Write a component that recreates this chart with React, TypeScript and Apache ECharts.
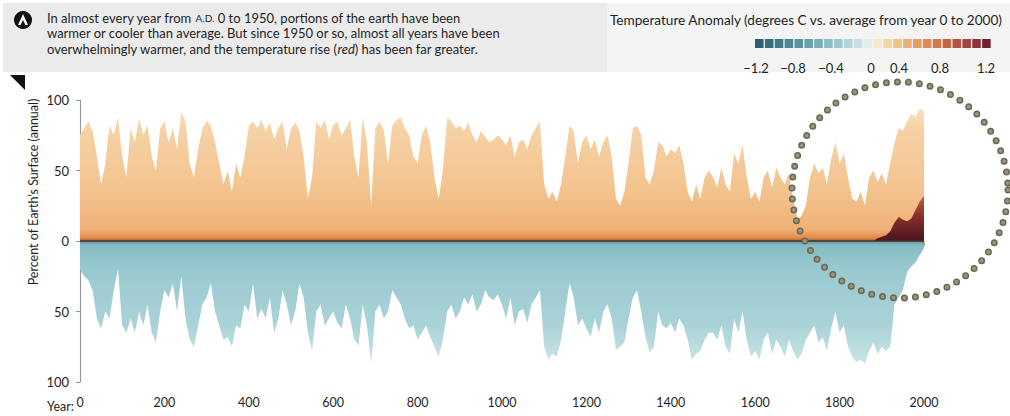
import React, { useEffect, useRef } from "react";
import * as echarts from "echarts";

// Decade sample years 0..2000
const years: number[] = Array.from({ length: 201 }, (_, i) => i * 10);

// Percent of Earth's surface warmer than average (per decade sample)
const warmPct: number[] = [
  75, 80, 85, 78, 60, 40, 55, 82, 75, 88, 60, 45, 80, 70, 87, 75, 82, 60, 50, 80,
  85, 70, 80, 65, 92, 85, 55, 45, 65, 80, 85, 82, 70, 55, 40, 50, 35, 55, 45, 60,
  82, 85, 80, 86, 78, 84, 72, 80, 85, 65,
  80, 84, 78, 60, 30, 45, 85, 80, 86, 72, 82, 85, 75, 80, 86, 60, 45, 88, 70, 25,
  80, 85, 78, 55, 82, 86, 88, 80, 75, 60, 55, 75, 82, 70, 45, 30, 50, 88, 85, 80,
  82, 78, 84, 75, 70, 78, 74, 70, 72, 75,
  72, 68, 75, 60, 70, 72, 65, 75, 80, 85, 40, 30, 35, 28, 40, 60, 82, 78, 55, 70,
  75, 65, 72, 60, 70, 75, 60, 30, 25, 35, 55, 80, 82, 75, 45, 40, 50, 70, 68, 60,
  65, 62, 68, 55, 35, 28, 40, 30, 45, 50,
  45, 38, 52, 40, 35, 62, 55, 68, 45, 30, 35, 28, 45, 50, 38, 52, 45, 40, 48, 30,
  15, 18, 25, 45, 55, 48, 52, 40, 58, 70, 55, 62, 45, 30, 28, 35, 25, 45, 50, 42,
  48, 40, 55, 70, 80, 78, 85, 90, 88, 94, 92,
];

// Percent of Earth's surface cooler than average (plotted downward)
const coolPct: number[] = [
  20, 25, 28, 35, 55, 62, 50, 55, 35, 20, 60, 65, 55, 65, 50, 60, 45, 65, 72, 50,
  35, 40, 30, 50, 25, 55, 70, 75, 60, 45, 40, 30, 50, 60, 70, 68, 75, 60, 62, 45,
  50, 30, 55, 48, 55, 40, 65, 55, 35, 45,
  60, 50, 30, 40, 65, 78, 50, 45, 60, 55, 50, 58, 62, 45, 55, 70, 74, 45, 60, 87,
  50, 45, 55, 50, 35, 40, 45, 55, 62, 60, 70, 65, 60, 68, 75, 82, 70, 50, 45, 55,
  50, 40, 45, 38, 50, 45, 35, 40, 42, 38,
  45, 55, 40, 60, 50, 48, 58, 45, 40, 35, 75, 84, 80, 82, 70, 50, 30, 40, 60, 55,
  62, 68, 55, 65, 50, 45, 55, 77, 75, 72, 55, 40, 35, 50, 68, 79, 75, 50, 60, 62,
  58, 65, 55, 60, 70, 84, 80, 78, 70, 65,
  65, 70, 60, 75, 80, 55, 65, 50, 70, 82, 78, 84, 70, 65, 80, 70, 75, 82, 70, 78,
  84, 80, 70, 65, 60, 72, 68, 78, 62, 50, 65, 60, 75, 82, 86, 84, 87, 78, 72, 80,
  75, 78, 75, 45, 40, 35, 22, 18, 15, 10, 5,
];

// Strongly warm (red) portion in the modern era
const hotYears: number[] = [1880, 1890, 1900, 1910, 1920, 1930, 1940, 1950, 1960, 1970, 1980, 1990, 2000];
const hotPct: number[] = [0, 2, 3, 4, 7, 13, 17, 15, 14, 16, 22, 28, 32];

const yTicks: number[] = [-100, -50, 0, 50, 100];
const legendLabels: string[] = ["\u22121.2", "\u22120.8", "\u22120.4", "0", "0.4", "0.8", "1.2"];
const legendLabelX: number[] = [756, 793, 831, 871, 899, 940, 986];
const legendColors: string[] = [
  "#2e5f6e", "#376c7a", "#417a87", "#4d8793", "#5a949f", "#69a1ab", "#79aeb7", "#8bbbc3",
  "#9ec8ce", "#b2d4d9", "#c8e0e2", "#e2eeec", "#f6e8cc", "#f3d6a4", "#efc48a", "#eab176",
  "#e49e65", "#dc8b58", "#d0784f", "#c26648", "#b35443", "#a2433f", "#8e333b", "#6e2232",
];

const FONT = "Lato, 'Open Sans', sans-serif";
const INK = "#1f1f1f";

export default function App() {
  const ref = useRef<HTMLDivElement>(null);
  useEffect(() => {
    if (!ref.current) return;
    const chart = echarts.init(ref.current, undefined, { renderer: "svg" });

    const warmGrad = new echarts.graphic.LinearGradient(0, 241, 0, 100, [
      { offset: 0, color: "#b8642f" },
      { offset: 0.025, color: "#e28c4c" },
      { offset: 0.08, color: "#efb077" },
      { offset: 0.35, color: "#f3c38e" },
      { offset: 0.8, color: "#f6d2a6" },
      { offset: 1, color: "#fae8d0" },
    ], true);
    const coolGrad = new echarts.graphic.LinearGradient(0, 241, 0, 382, [
      { offset: 0, color: "#5a96a2" },
      { offset: 0.03, color: "#86bcc4" },
      { offset: 0.2, color: "#99c9d0" },
      { offset: 0.6, color: "#aad3d8" },
      { offset: 1, color: "#daedef" },
    ], true);
    const hotGrad = new echarts.graphic.LinearGradient(0, 241, 0, 170, [
      { offset: 0, color: "#4a1420" },
      { offset: 0.35, color: "#8a2f2a" },
      { offset: 0.7, color: "#c46a3c" },
      { offset: 1, color: "rgba(236,170,100,0.3)" },
    ], true);

    const graphics: any[] = [
      { type: "rect", shape: { x: 3, y: 3, width: 604, height: 69 }, style: { fill: "#ebebeb" }, z: 0 },
      { type: "rect", shape: { x: 607, y: 3, width: 403, height: 69 }, style: { fill: "#f4f4f4" }, z: 0 },
      { type: "circle", shape: { cx: 23, cy: 20, r: 9 }, style: { fill: "#111" }, z: 5 },
      { type: "polygon", shape: { points: [[18, 25], [23, 14], [28, 25], [25.5, 25], [23, 20], [20.5, 25]] }, style: { fill: "#fff" }, z: 6 },
      {
        type: "text", x: 47, y: 18, z: 5,
        style: {
          text: "In almost every year from {sc|A.D.} 0 to 1950, portions of the earth have been",
          font: `13px ${FONT}`, fill: INK, verticalAlign: "middle",
          rich: { sc: { fontSize: 10, fontFamily: FONT, fill: INK } },
        },
      },
      {
        type: "text", x: 47, y: 33, z: 5,
        style: { text: "warmer or cooler than average. But since 1950 or so, almost all years have been", font: `13px ${FONT}`, fill: INK, verticalAlign: "middle" },
      },
      {
        type: "text", x: 47, y: 49, z: 5,
        style: {
          text: "overwhelmingly warmer, and the temperature rise ({it|red}) has been far greater.",
          font: `13px ${FONT}`, fill: INK, verticalAlign: "middle",
          rich: { it: { fontStyle: "italic", fontSize: 13, fontFamily: FONT, fill: INK } },
        },
      },
      { type: "polygon", shape: { points: [[10, 75], [25, 75], [25, 90]] }, style: { fill: "#111" }, z: 5 },
      {
        type: "text", x: 1002, y: 20, z: 5,
        style: { text: "Temperature Anomaly (degrees C vs. average from year 0 to 2000)", font: `13.6px ${FONT}`, fill: INK, align: "right", verticalAlign: "middle" },
      },
      {
        type: "text", x: 33, y: 192, rotation: Math.PI / 2, z: 5,
        style: { text: "Percent of Earth\u2019s Surface (annual)", font: `12.5px ${FONT}`, fill: INK, align: "center", verticalAlign: "middle" },
      },
      {
        type: "text", x: 74, y: 406, z: 5,
        style: { text: "Year:", font: `12.5px ${FONT}`, fill: INK, align: "right", verticalAlign: "middle" },
      },
      {
        type: "circle", shape: { cx: 900, cy: 190, r: 108 }, z: 100,
        style: { fill: "none", stroke: "#6b6853", lineWidth: 7, lineDash: [0, 11], lineCap: "round" },
      },
      {
        type: "circle", shape: { cx: 900, cy: 190, r: 108 }, z: 101,
        style: { fill: "none", stroke: "#99957d", lineWidth: 4, lineDash: [0, 11], lineCap: "round" },
      },
    ];
    const sqW = 237 / legendColors.length;
    legendColors.forEach((c, k) => {
      graphics.push({ type: "rect", z: 5, shape: { x: 755 + k * sqW, y: 39, width: sqW - 1.3, height: 9 }, style: { fill: c } });
    });
    legendLabels.forEach((t, k) => {
      graphics.push({ type: "text", z: 5, x: legendLabelX[k], y: 68, style: { text: t, font: `13px ${FONT}`, fill: INK, align: "center", verticalAlign: "middle" } });
    });

    const areaSeries = (name: string, data: number[][], color: any, z: number) => ({
      name, type: "line", data, z, silent: true, showSymbol: false, symbol: "none",
      lineStyle: { width: 0, opacity: 0 }, areaStyle: { color, opacity: 1 },
    });

    chart.setOption({
      animation: false,
      backgroundColor: "#ffffff",
      grid: { left: 80, right: 86, top: 100, bottom: 34 },
      xAxis: {
        type: "value", min: 0, max: 2000, interval: 100, offset: 10,
        axisLine: { show: false },
        axisTick: { show: true, length: 5, lineStyle: { color: "#aaa" } },
        axisLabel: {
          margin: 4, fontSize: 12.5, fontFamily: FONT, color: INK,
          formatter: (v: number) => (v % 200 === 0 ? String(v) : ""),
        },
        splitLine: { show: false },
      },
      yAxis: {
        type: "value", min: yTicks[0], max: yTicks[yTicks.length - 1], interval: 50,
        axisLine: { show: true, lineStyle: { color: "#999", width: 1.2 } },
        axisTick: { show: true, length: 4, lineStyle: { color: "#999" } },
        axisLabel: { margin: 11, fontSize: 13, fontFamily: FONT, color: INK, formatter: (v: number) => String(Math.abs(v)) },
        splitLine: { show: false },
      },
      series: [
        areaSeries("Warmer", warmPct.map((v, i) => [years[i], v]), warmGrad, 2),
        areaSeries("Cooler", coolPct.map((v, i) => [years[i], -v]), coolGrad, 2),
        areaSeries("Much warmer", hotPct.map((v, i) => [hotYears[i], v]), hotGrad, 3),
        {
          type: "line", silent: true, showSymbol: false, symbol: "none", z: 4,
          data: [[0, 0], [2000, 0]], lineStyle: { color: "#4a2e22", width: 1.5 },
        },
      ],
      graphic: graphics,
    });
    return () => chart.dispose();
  }, []);
  return <div ref={ref} style={{ position: "fixed", left: 0, top: 0, width: 1010, height: 416 }} />;
}
